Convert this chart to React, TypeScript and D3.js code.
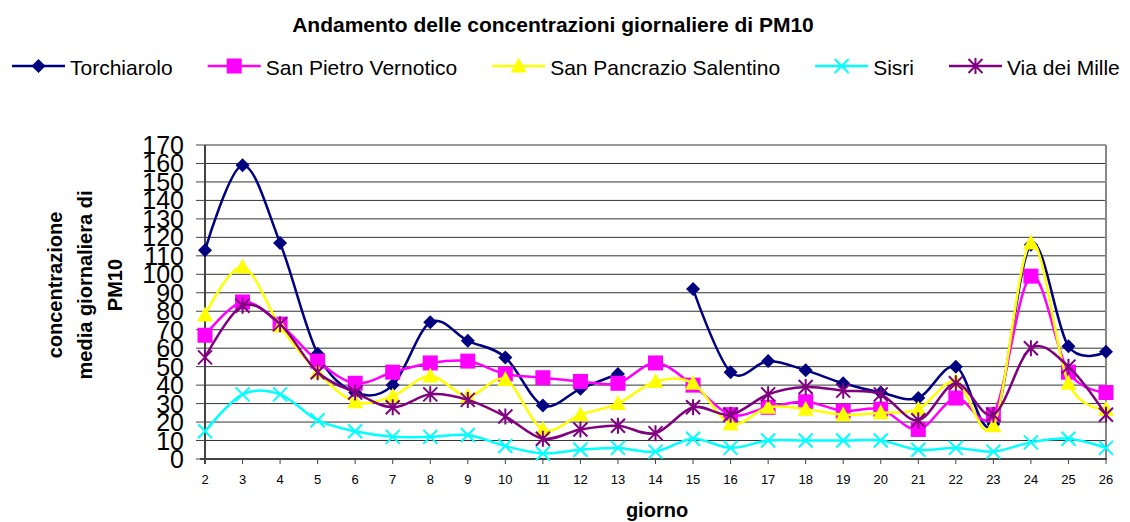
import React, { useMemo } from 'react';
import * as d3 from 'd3';

// giorni del mese
const days = [2, 3, 4, 5, 6, 7, 8, 9, 10, 11, 12, 13, 14, 15, 16, 17, 18, 19, 20, 21, 22, 23, 24, 25, 26];

const torchiarolo = [113, 159, 117, 57, 36, 40, 74, 64, 55, 29, 38, 46, null, 92, 47, 53, 48, 41, 36, 33, 50, 19, 116, 61, 58];
const sanPietro = [67, 85, 73, 53, 41, 47, 52, 53, 46, 44, 42, 41, 52, 40, 24, 28, 31, 26, 27, 16, 33, 24, 99, 47, 36];
const sanPancrazio = [78, 104, 72, 47, 31, 34, 45, 34, 43, 16, 24, 30, 42, 41, 19, 28, 27, 24, 25, 27, 42, 18, 117, 41, 27];
const sisri = [15, 35, 35, 21, 15, 12, 12, 13, 7, 3, 5, 6, 4, 11, 6, 10, 10, 10, 10, 5, 6, 4, 9, 11, 6];
const viaDeiMille = [55, 83, 73, 47, 36, 28, 35, 32, 23, 11, 16, 18, 14, 28, 24, 35, 39, 37, 35, 21, 41, 24, 60, 50, 24];

const yTicks = [0, 10, 20, 30, 40, 50, 60, 70, 80, 90, 100, 110, 120, 130, 140, 150, 160, 170];

type Marker = 'diamond' | 'square' | 'triangle' | 'x' | 'star';

const series: { name: string; color: string; marker: Marker; values: (number | null)[] }[] = [
  { name: 'Torchiarolo', color: '#000080', marker: 'diamond', values: torchiarolo },
  { name: 'San Pietro Vernotico', color: '#FF00FF', marker: 'square', values: sanPietro },
  { name: 'San Pancrazio Salentino', color: '#FFFF00', marker: 'triangle', values: sanPancrazio },
  { name: 'Sisri', color: '#00FFFF', marker: 'x', values: sisri },
  { name: 'Via dei Mille', color: '#800080', marker: 'star', values: viaDeiMille },
];

const FONT = '"Liberation Sans", Arial, sans-serif';

function MarkerShape({ type, x, y, color }: { type: Marker; x: number; y: number; color: string }) {
  const s = 7;
  if (type === 'diamond')
    return <path d={`M${x},${y - s}L${x + s},${y}L${x},${y + s}L${x - s},${y}Z`} fill={color} />;
  if (type === 'square')
    return <rect x={x - 7.5} y={y - 7.5} width={15} height={15} fill={color} />;
  if (type === 'triangle')
    return <path d={`M${x},${y - 8.5}L${x + 8},${y + 6.5}L${x - 8},${y + 6.5}Z`} fill={color} />;
  if (type === 'x')
    return (
      <path d={`M${x - s},${y - s}L${x + s},${y + s}M${x - s},${y + s}L${x + s},${y - s}`}
        stroke={color} strokeWidth={2} fill="none" />
    );
  return (
    <path d={`M${x - s},${y - s}L${x + s},${y + s}M${x - s},${y + s}L${x + s},${y - s}M${x},${y - s - 1}L${x},${y + s + 1}`}
      stroke={color} strokeWidth={2} fill="none" />
  );
}

export default function App() {
  const width = 1130;
  const height = 522;

  const x = d3.scaleLinear().domain([2, 26]).range([205, 1106]);
  const y = d3.scaleLinear().domain([0, 170]).range([459, 145]);

  const line = d3
    .line<number | null>()
    .defined((d) => d != null)
    .x((_, i) => x(days[i]))
    .y((d) => y(d as number))
    .curve(d3.curveCardinal.tension(0));

  // legend positions from measured text widths
  const legendX = useMemo(() => {
    const ctx = document.createElement('canvas').getContext('2d')!;
    ctx.font = `21px ${FONT}`;
    let pos = 12;
    return series.map((s) => {
      const start = pos;
      pos += 58 + ctx.measureText(s.name).width + 35;
      return start;
    });
  }, []);

  return (
    <svg width={width} height={height} style={{ position: 'absolute', left: 0, top: 0, background: '#fff' }}
      fontFamily={FONT}>
      <text x={553} y={32} textAnchor="middle" fontSize={21} fontWeight="bold">
        Andamento delle concentrazioni giornaliere di PM10
      </text>

      {/* legenda */}
      {series.map((s, i) => (
        <g key={s.name}>
          <line x1={legendX[i]} x2={legendX[i] + 53} y1={66} y2={66} stroke={s.color} strokeWidth={2.5} />
          <MarkerShape type={s.marker} x={legendX[i] + 26.5} y={66} color={s.color} />
          <text x={legendX[i] + 58} y={75} fontSize={21}>{s.name}</text>
        </g>
      ))}

      {/* griglia */}
      {yTicks.map((t) => (
        <line key={t} x1={205} x2={1106} y1={y(t)} y2={y(t)} stroke="#333" strokeWidth={1} />
      ))}
      <line x1={205} x2={1106} y1={y(170)} y2={y(170)} stroke="#999" strokeWidth={1.5} />
      <line x1={1106} x2={1106} y1={y(170)} y2={y(0)} stroke="#888" strokeWidth={2} />

      {/* asse y */}
      <line x1={205} x2={205} y1={y(170)} y2={y(0) + 5} stroke="#444" strokeWidth={2} />
      {yTicks.map((t) => (
        <g key={t}>
          <line x1={196} x2={205} y1={y(t)} y2={y(t)} stroke="#444" strokeWidth={1} />
          <text x={184} y={y(t)} dy="0.36em" textAnchor="end" fontSize={25}>{t}</text>
        </g>
      ))}

      {/* asse x */}
      <line x1={200} x2={1107} y1={y(0)} y2={y(0)} stroke="#444" strokeWidth={2} />
      {days.map((d) => (
        <g key={d}>
          <line x1={x(d)} x2={x(d)} y1={y(0)} y2={y(0) + 5} stroke="#444" strokeWidth={1} />
          <text x={x(d)} y={484} textAnchor="middle" fontSize={13}>{d}</text>
        </g>
      ))}

      <text x={657} y={517} textAnchor="middle" fontSize={20} fontWeight="bold">giorno</text>

      <g transform="translate(0,285) rotate(-90)" fontSize={20} fontWeight="bold" textAnchor="middle">
        <text x={0} y={62}>concentrazione</text>
        <text x={0} y={92}>media giornaliera di</text>
        <text x={0} y={122}>PM10</text>
      </g>

      {/* serie */}
      {series.map((s) => (
        <g key={s.name}>
          <path d={line(s.values) ?? ''} fill="none" stroke={s.color} strokeWidth={2.5} />
          {s.values.map((v, i) =>
            v == null ? null : (
              <MarkerShape key={i} type={s.marker} x={x(days[i])} y={y(v)} color={s.color} />
            )
          )}
        </g>
      ))}
    </svg>
  );
}
